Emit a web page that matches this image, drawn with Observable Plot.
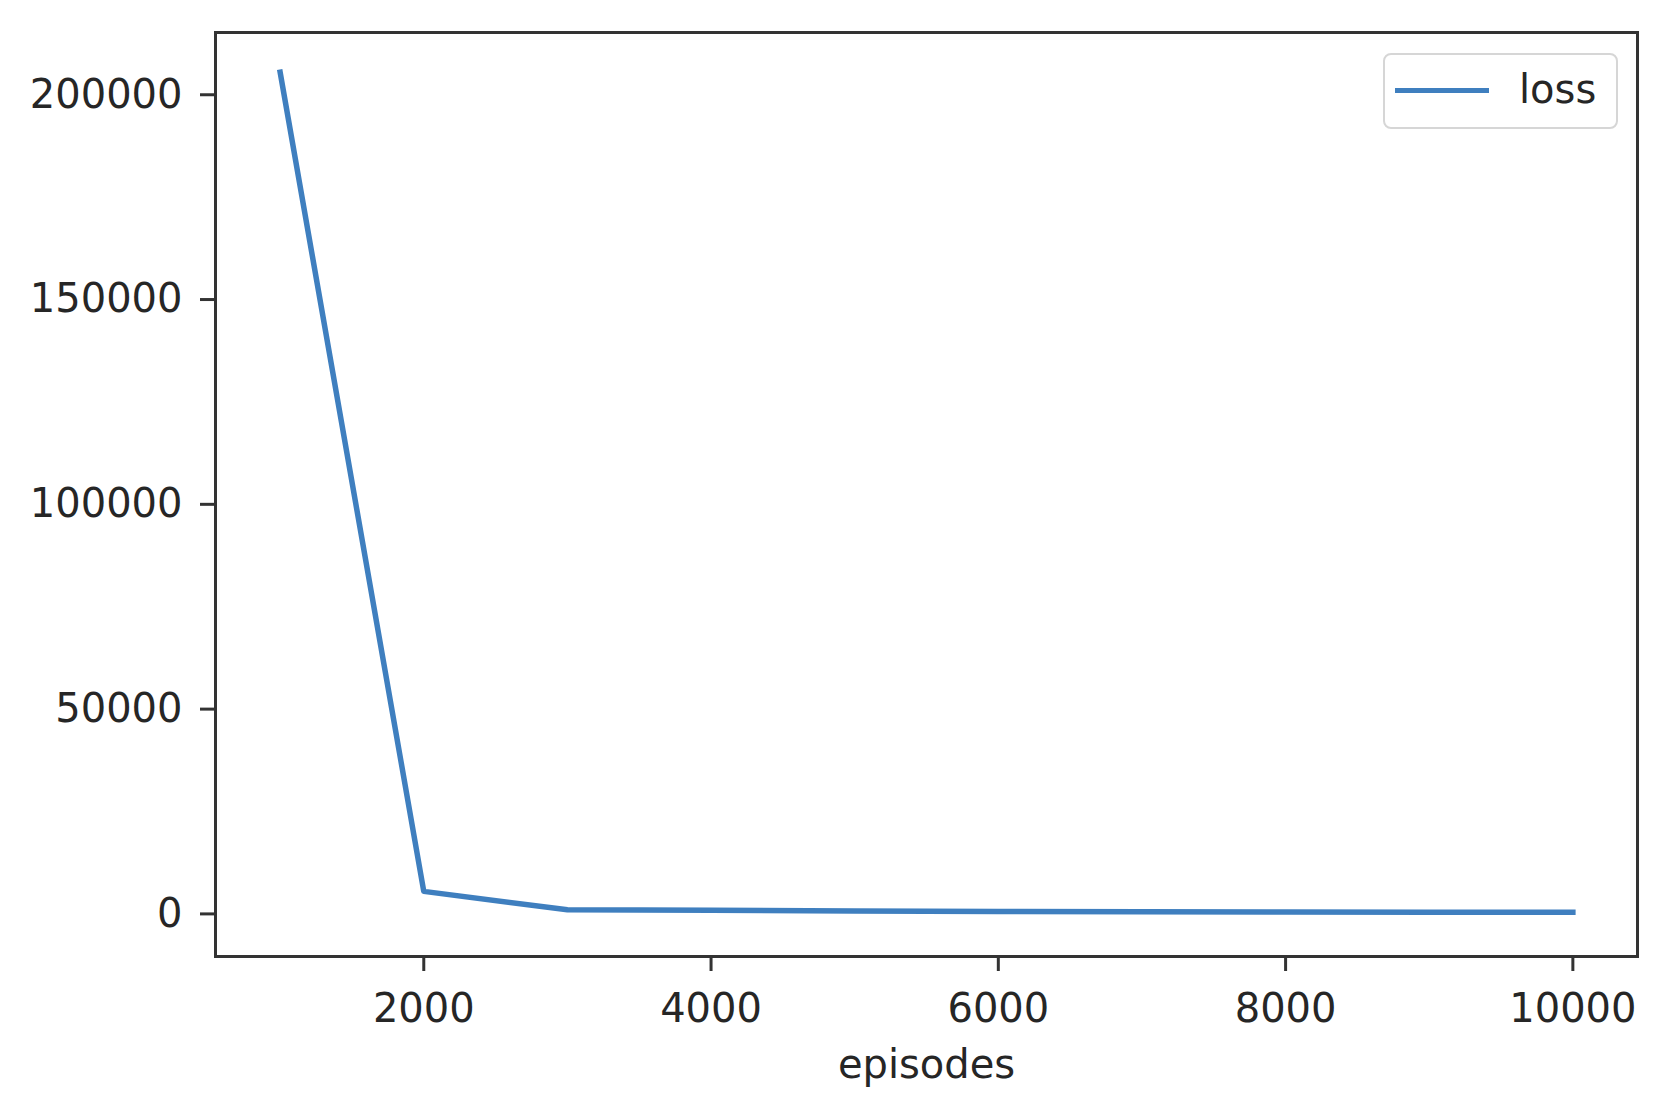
<!DOCTYPE html>
<html>
<head>
<meta charset="utf-8">
<script src="https://cdn.jsdelivr.net/npm/d3@7"></script>
<script src="https://cdn.jsdelivr.net/npm/@observablehq/plot@0.6"></script>
<style>
  html, body { margin: 0; padding: 0; background: #fff; }
  #wrap { position: relative; width: 1654px; height: 1102px; font-family: "DejaVu Sans", sans-serif; }
  #legend { position: absolute; left: 1383px; top: 53px; width: 231px; height: 72px;
            border: 2px solid #d6d6d6; border-radius: 8px; background: rgba(255,255,255,0.8); }
  #legend .sw { position: absolute; left: 10px; top: 33px; width: 94px; height: 5px; background: #3f7fbf; }
  #legend .lb { position: absolute; left: 134px; top: 10px; font-size: 40px; line-height: 48px; color: #262626; }
</style>
</head>
<body>
<div id="wrap"></div>
<script>
const episodes = [1000, 2000, 3000, 4000, 5000, 6000, 7000, 8000, 9000, 10000];
const loss = [205500, 5500, 1000, 900, 700, 600, 500, 450, 400, 380];
const xTicks = [2000, 4000, 6000, 8000, 10000];
const yTicks = [0, 50000, 100000, 150000, 200000];
const seriesName = "loss";
const xLabel = "episodes";

const data = episodes.map((e, i) => ({episodes: e, loss: loss[i]}));
const lineColor = "#3f7fbf";
const ink = "#262626";

const chart = Plot.plot({
  width: 1654,
  height: 1102,
  marginLeft: 215,
  marginRight: 17,
  marginTop: 32,
  marginBottom: 146,
  style: {fontFamily: "DejaVu Sans, sans-serif", fontSize: "40px", color: ink, background: "#fff"},
  x: {domain: [550, 10450]},
  y: {domain: [-10400, 215200]},
  marks: [
    Plot.line(data, {x: "episodes", y: "loss", stroke: lineColor, strokeWidth: 5.5,
      strokeLinecap: "square", strokeLinejoin: "round"}),
    Plot.frame({stroke: "#333", strokeWidth: 3}),
    Plot.axisX({ticks: xTicks, tickFormat: d => String(d), tickSize: 15, tickPadding: 22,
      strokeWidth: 3, stroke: "#333", fontSize: 40, label: null}),
    Plot.axisY({ticks: yTicks, tickFormat: d => String(d), tickSize: 15, tickPadding: 18,
      strokeWidth: 3, stroke: "#333", fontSize: 40, label: null}),
    Plot.text([xLabel], {text: d => d, frameAnchor: "bottom", dy: 121, fontSize: 40, fill: ink})
  ]
});

const wrap = document.getElementById("wrap");
wrap.appendChild(chart);
const legend = document.createElement("div");
legend.id = "legend";
legend.innerHTML = '<div class="sw"></div><div class="lb"></div>';
legend.querySelector(".lb").textContent = seriesName;
legend.querySelector(".sw").style.background = lineColor;
wrap.appendChild(legend);
</script>
</body>
</html>
